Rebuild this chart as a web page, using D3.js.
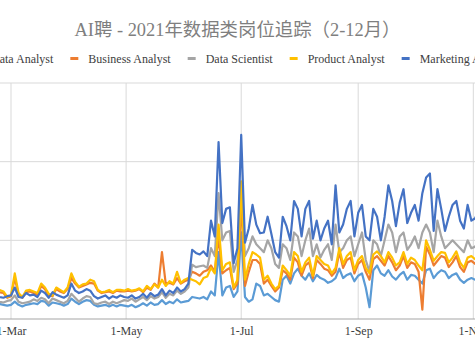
<!DOCTYPE html>
<html><head><meta charset="utf-8">
<script src="https://cdn.jsdelivr.net/npm/d3@7"></script>
<style>html,body{margin:0;padding:0;background:#fff;overflow:hidden}</style>
</head><body><svg id="chart" width="475" height="356"></svg>
<script>
// ---- data ----
const titleText = "AI聘 - 2021年数据类岗位追踪（2-12月）";
const startDate = "2021-02-21";   // first visible point; one point every stepDays
const stepDays = 2;
const seriesNames = ["Data Analyst","Business Analyst","Data Scientist","Product Analyst","Marketing Analyst"];
const seriesColors = ["#5B9BD5","#ED7D31","#A5A5A5","#FFC000","#4472C4"];
const tickDates = ["2021-03-01","2021-05-01","2021-07-01","2021-09-01","2021-11-01"];
const tickLabels = ["1-Mar","1-May","1-Jul","1-Sep","1-Nov"];
const yTicks = [0,100,200,300];

const dataAnalyst = [20,19,18,17,18,22,18,16,18,19,20,19,23,22,17,21,20,19,17,19,26,22,19,22,24,23,18,16,17,18,16,18,16,18,
 17,16,18,15,17,20,17,21,18,19,24,19,22,20,25,21,22,
 23,28,27,26,28,25,35,30,85,30,40,42,28,35,110,
 28,22,25,45,42,30,32,28,24,22,50,55,45,58,64,55,50,58,48,56,52,50,46,48,52,64,52,56,58,48,55,
 58,40,15,62,68,58,55,62,54,50,56,60,50,56,55,50,45,62,64,52,58,62,60,52,56,58,50,46,50,52,50,52];
const businessAnalyst = [35,34,33,27,29,52,31,27,34,35,33,31,42,38,30,29,38,35,33,38,52,45,40,42,44,46,45,36,33,34,35,33,36,35,
 35,36,35,36,38,34,40,37,45,40,85,45,46,44,52,45,48,
 50,60,58,55,60,62,68,60,105,58,62,65,38,45,150,
 42,60,75,75,70,45,50,42,35,40,62,58,50,78,72,55,68,72,52,75,70,64,62,55,60,85,65,75,78,58,70,
 75,60,50,76,80,74,68,80,72,62,68,80,65,72,70,60,12,92,82,68,74,80,78,66,72,80,66,60,72,74,70,74];
const dataScientist = [24,22,21,23,24,30,22,20,21,22,25,23,27,25,20,26,24,22,20,23,32,27,22,26,29,28,20,19,21,22,19,22,20,22,
 24,23,26,22,25,28,24,29,26,28,34,27,32,30,36,32,35,
 40,69,66,67,68,65,90,80,160,100,110,112,60,75,170,
 80,90,105,95,90,85,100,90,70,65,95,90,75,110,105,80,100,115,80,95,78,88,95,75,120,85,90,100,105,80,95,
 110,75,60,100,95,80,100,120,110,85,105,110,88,95,105,90,110,120,110,85,125,105,90,95,100,95,90,85,100,90,92,100];
const productAnalyst = [37,37,35,28,30,58,33,28,36,37,35,33,45,40,32,30,40,37,34,40,58,47,41,44,45,50,48,37,34,35,37,34,37,37,
 36,38,36,37,39,35,42,38,44,40,50,42,48,45,60,46,50,
 52,50,48,44,52,54,65,58,120,62,70,72,40,50,175,
 50,70,85,82,78,50,55,45,38,42,68,62,55,85,80,60,72,78,55,80,75,70,68,58,65,90,70,80,85,62,75,
 80,65,58,82,86,80,72,85,78,68,72,85,70,78,75,68,62,100,88,74,80,85,84,72,78,86,72,65,78,80,76,80];
const marketingAnalyst = [30,28,27,29,30,40,28,27,33,30,31,28,36,33,27,34,31,29,27,30,45,36,33,35,38,36,29,26,28,30,26,29,27,30,
 28,27,30,26,28,32,27,33,29,31,38,30,36,33,40,35,38,
 45,88,84,82,86,80,125,105,225,122,140,142,71,90,234,
 97,115,145,120,109,110,130,108,85,78,130,118,100,150,140,105,140,150,102,125,100,115,125,95,170,110,120,140,150,105,135,
 145,105,100,140,130,100,130,170,150,118,148,165,122,135,145,125,160,180,185,112,165,140,112,130,145,150,125,115,145,125,128,140];
const seriesValues = [dataAnalyst,businessAnalyst,dataScientist,productAnalyst,marketingAnalyst];

// ---- chart ----
const W = 475, H = 356;
const svg = d3.select("#chart");
const parse = d3.utcParse("%Y-%m-%d");
const t0 = parse(startDate);
const dates = dataAnalyst.map((_, i) => d3.utcDay.offset(t0, i * stepDays));

const plotTop = 83, plotBottom = 319;
const x = d3.scaleUtc().domain([parse("2021-03-01"), parse("2021-11-01")]).range([11, 473.3]);
const y = d3.scaleLinear().domain([0, 300]).range([plotBottom, plotTop]);

const serif = "'Liberation Serif','Times New Roman','Noto Sans CJK SC',serif";

// gridlines
svg.append("g").selectAll("line").data(yTicks.filter(v => v > 0)).join("line")
  .attr("x1", 0).attr("x2", W).attr("y1", d => y(d)).attr("y2", d => y(d))
  .attr("stroke", "#d9d9d9").attr("stroke-width", 1);
svg.append("g").selectAll("line").data(tickDates.map(parse)).join("line")
  .attr("x1", d => x(d)).attr("x2", d => x(d)).attr("y1", plotTop).attr("y2", plotBottom)
  .attr("stroke", "#d9d9d9").attr("stroke-width", 1);

// lines
const line = d3.line().x((d, i) => x(dates[i])).y(d => y(d)).curve(d3.curveLinear);
svg.append("g").selectAll("path").data(seriesValues).join("path")
  .attr("d", d => line(d))
  .attr("fill", "none")
  .attr("stroke", (d, i) => seriesColors[i])
  .attr("stroke-width", 2.2)
  .attr("stroke-linejoin", "round")
  .attr("stroke-linecap", "round");

// x axis
const xAxis = d3.axisBottom(x)
  .tickValues(tickDates.map(parse))
  .tickFormat((d, i) => tickLabels[i])
  .tickSize(0).tickPadding(7.5);
const gx = svg.append("g").attr("transform", `translate(0,${plotBottom})`).call(xAxis);
gx.select(".domain").remove();
gx.selectAll("text").attr("font-family", serif).attr("font-size", 12).attr("fill", "#404040");
svg.append("line").attr("x1", 0).attr("x2", W).attr("y1", plotBottom).attr("y2", plotBottom)
  .attr("stroke", "#a6a6a6").attr("stroke-width", 1.2);

// title
svg.append("text").attr("x", 237.5).attr("y", 36).attr("text-anchor", "middle")
  .attr("font-family", serif).attr("font-size", 18.4).attr("fill", "#7f7f7f").text(titleText);

// legend
const lg = svg.append("g");
let lx = -27;
seriesNames.forEach((name, i) => {
  lg.append("line").attr("x1", lx).attr("x2", lx + 8).attr("y1", 58.5).attr("y2", 58.5)
    .attr("stroke", seriesColors[i]).attr("stroke-width", 3);
  const t = lg.append("text").attr("x", lx + 18).attr("y", 62.5)
    .attr("font-family", serif).attr("font-size", 12).attr("fill", "#404040").text(name);
  lx = lx + 18 + t.node().getComputedTextLength() + 17;
});
</script>
</body></html>
